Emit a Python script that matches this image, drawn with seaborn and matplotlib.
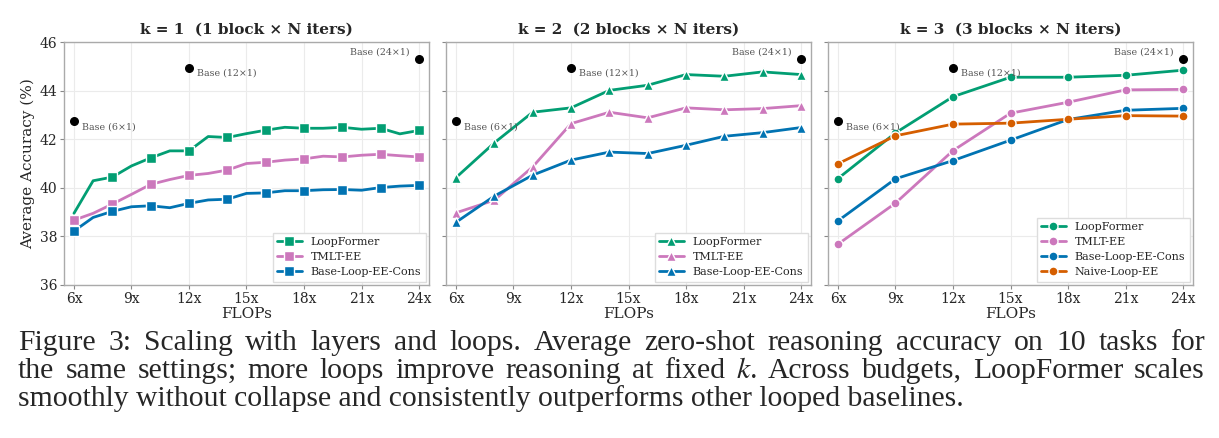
import numpy as np
import pandas as pd
import matplotlib
matplotlib.use("Agg")
import matplotlib.pyplot as plt
import seaborn as sns

# ---- data ----
x_k1 = list(range(6, 25))
k1_loopformer = [38.95, 40.29, 40.44, 40.90, 41.23, 41.52, 41.52, 42.11, 42.07, 42.23,
                 42.37, 42.49, 42.45, 42.45, 42.49, 42.41, 42.45, 42.22, 42.36]
k1_tmlt = [38.67, 38.95, 39.33, 39.73, 40.14, 40.34, 40.51, 40.59, 40.73, 41.00,
           41.05, 41.14, 41.19, 41.30, 41.27, 41.34, 41.38, 41.32, 41.27]
k1_cons = [38.22, 38.78, 39.03, 39.22, 39.26, 39.18, 39.36, 39.50, 39.53, 39.77,
           39.79, 39.88, 39.88, 39.92, 39.93, 39.90, 40.01, 40.07, 40.10]

x_k2 = [6, 8, 10, 12, 14, 16, 18, 20, 22, 24]
k2_loopformer = [40.42, 41.85, 43.11, 43.29, 44.01, 44.22, 44.66, 44.59, 44.77, 44.66]
k2_tmlt = [38.97, 39.49, 40.86, 42.64, 43.11, 42.88, 43.29, 43.21, 43.26, 43.38]
k2_cons = [38.58, 39.66, 40.52, 41.14, 41.47, 41.41, 41.75, 42.12, 42.27, 42.48]

x_k3 = [6, 9, 12, 15, 18, 21, 24]
k3_loopformer = [40.38, 42.26, 43.75, 44.55, 44.55, 44.63, 44.84]
k3_tmlt = [37.68, 39.37, 41.53, 43.07, 43.52, 44.03, 44.05]
k3_cons = [38.64, 40.37, 41.12, 41.96, 42.81, 43.19, 43.27]
k3_naive = [40.99, 42.14, 42.62, 42.66, 42.82, 42.97, 42.95]

base_x = [6, 12, 24]
base_y = [42.74, 44.95, 45.29]
base_labels = ["Base (6×1)", "Base (12×1)", "Base (24×1)"]

titles = ["k = 1  (1 block × N iters)", "k = 2  (2 blocks × N iters)", "k = 3  (3 blocks × N iters)"]
xticks = [6, 9, 12, 15, 18, 21, 24]
xtick_labels = ["6x", "9x", "12x", "15x", "18x", "21x", "24x"]

pal = sns.color_palette("colorblind")
colors = {"LoopFormer": pal[2], "TMLT-EE": pal[4], "Base-Loop-EE-Cons": pal[0], "Naive-Loop-EE": pal[3]}

sns.set_theme(style="whitegrid")
plt.rcParams["font.family"] = ["DejaVu Serif"]
plt.rcParams["axes.edgecolor"] = "#aaaaaa"
plt.rcParams["grid.color"] = "#ebebeb"
plt.rcParams["grid.linewidth"] = 0.8
plt.rcParams["mathtext.fontset"] = "stix"

fig = plt.figure(figsize=(12.19, 4.38), dpi=100)
W, H = 1219, 438
lefts = [64, 446, 828]
axes = [fig.add_axes([l / W, (H - 285) / H, 365 / W, 243 / H]) for l in lefts]

panels = [
    (x_k1, [("LoopFormer", k1_loopformer, (2, 2)), ("TMLT-EE", k1_tmlt, 2),
            ("Base-Loop-EE-Cons", k1_cons, 2)], "s"),
    (x_k2, [("LoopFormer", k2_loopformer, 1), ("TMLT-EE", k2_tmlt, 1),
            ("Base-Loop-EE-Cons", k2_cons, 1)], "^"),
    (x_k3, [("LoopFormer", k3_loopformer, 1), ("TMLT-EE", k3_tmlt, 1),
            ("Base-Loop-EE-Cons", k3_cons, 1), ("Naive-Loop-EE", k3_naive, 1)], "o"),
]

for i, (ax, (xs, series, mk)) in enumerate(zip(axes, panels)):
    for name, ys, me in series:
        sns.lineplot(x=xs, y=ys, ax=ax, color=colors[name], label=name,
                     marker=mk, markersize=6.5, markeredgecolor="white",
                     markeredgewidth=1.0, linewidth=2.0, markevery=me)
    ax.scatter(base_x, base_y, color="black", s=30, zorder=5)
    offs = [((6, -4), "left"), ((6, -4), "left"), ((-7, 5), "right")]
    for bx, by, lab, (off, ha) in zip(base_x, base_y, base_labels, offs):
        ax.annotate(lab, (bx, by), xytext=off, textcoords="offset points",
                    ha=ha, va="center", fontsize=6.8, color="#555555")
    ax.set_xlim(5.48, 24.52)
    ax.set_ylim(36, 46)
    ax.set_xticks(xticks)
    ax.set_xticklabels(xtick_labels)
    ax.set_yticks([36, 38, 40, 42, 44, 46])
    ax.tick_params(axis="both", labelsize=10, length=3, width=0.8, color="#888888",
                   direction="out", bottom=True, left=True, pad=2)
    if i > 0:
        ax.set_yticklabels([])
    ax.set_title(titles[i], fontsize=11, fontweight="bold", pad=6)
    ax.set_xlabel("FLOPs", fontsize=11, labelpad=1)
    for s in ax.spines.values():
        s.set_linewidth(1.0)
    ax.legend(loc="lower right", fontsize=8, frameon=True, fancybox=False,
              edgecolor="#dddddd", framealpha=1.0, borderaxespad=0.3,
              handlelength=2.2, labelspacing=0.45)

axes[0].set_ylabel("Average Accuracy (%)", fontsize=11, labelpad=3)

# caption, first two lines justified word by word
cap = ["Figure 3: Scaling with layers and loops.  Average zero-shot reasoning accuracy on 10 tasks for",
       "the same settings; more loops improve reasoning at fixed $k$.  Across budgets, LoopFormer scales",
       "smoothly without collapse and consistently outperforms other looped baselines."]
cap_left, cap_right = 18, 1205
baselines = [350, 378, 406]
renderer = fig.canvas.get_renderer()
for j, line in enumerate(cap):
    y = 1 - baselines[j] / H
    if j == len(cap) - 1:
        fig.text(cap_left / W, y, line, fontsize=21.3, family=["Liberation Serif"],
                 ha="left", va="baseline")
        continue
    words = line.split()
    objs = [fig.text(0, y, w, fontsize=21.3, family=["Liberation Serif"],
                     ha="left", va="baseline") for w in words]
    widths = [o.get_window_extent(renderer).width for o in objs]
    gap = (cap_right - cap_left - sum(widths)) / (len(words) - 1)
    xpos = cap_left
    for o, w in zip(objs, widths):
        o.set_x(xpos / W)
        xpos += w + gap

fig.savefig("out.png", dpi=100)
